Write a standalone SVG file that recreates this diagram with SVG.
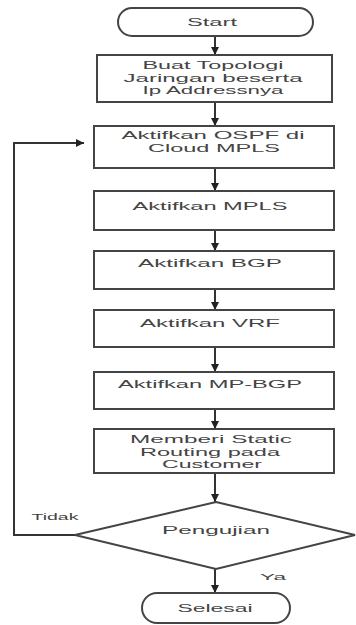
<svg xmlns="http://www.w3.org/2000/svg" width="356" height="625" viewBox="0 0 356 625">
<style>
.box{fill:#fff;stroke:#444;stroke-width:2}
.ln{fill:none;stroke:#333;stroke-width:2}
text{font-family:"Liberation Sans",Arial,sans-serif;font-size:10.5px;fill:#444;text-anchor:middle}
.sm{font-size:9px}
</style>
<defs>
<marker id="ah" viewBox="0 0 10 10" refX="10" refY="5" markerWidth="4" markerHeight="4" orient="auto" markerUnits="strokeWidth">
<path d="M0,0 L10,5 L0,10 Z" fill="#222"/>
</marker>
</defs>
<rect width="356" height="625" fill="#fff"/>
<g id="connectors">
<line class="ln" x1="215" y1="36" x2="215" y2="55" marker-end="url(#ah)"/>
<line class="ln" x1="215" y1="102" x2="215" y2="126" marker-end="url(#ah)"/>
<line class="ln" x1="215" y1="168" x2="215" y2="191" marker-end="url(#ah)"/>
<line class="ln" x1="215" y1="230" x2="215" y2="251" marker-end="url(#ah)"/>
<line class="ln" x1="215" y1="289" x2="215" y2="310" marker-end="url(#ah)"/>
<line class="ln" x1="215" y1="347" x2="215" y2="372" marker-end="url(#ah)"/>
<line class="ln" x1="215" y1="409" x2="215" y2="429" marker-end="url(#ah)"/>
<line class="ln" x1="215" y1="473" x2="215" y2="502" marker-end="url(#ah)"/>
<line class="ln" x1="215" y1="569" x2="215" y2="593" marker-end="url(#ah)"/>
<polyline class="ln" points="75,535 14,535 14,143 84,143" marker-end="url(#ah)"/>
<text class="sm" x="55" y="520" textLength="47" lengthAdjust="spacingAndGlyphs">Tidak</text>
<text class="sm" x="273" y="580" textLength="26" lengthAdjust="spacingAndGlyphs">Ya</text>
</g>
<g id="start">
<rect class="box" x="118" y="8" width="195" height="28" rx="14"/>
<text x="212" y="26" textLength="50" lengthAdjust="spacingAndGlyphs">Start</text>
</g>
<g id="topologi">
<rect class="box" x="97" y="55" width="235" height="47"/>
<text x="213" y="69" textLength="141" lengthAdjust="spacingAndGlyphs">Buat Topologi</text>
<text x="213" y="81.5" textLength="179" lengthAdjust="spacingAndGlyphs">Jaringan beserta</text>
<text x="213" y="94" textLength="141" lengthAdjust="spacingAndGlyphs">Ip Addressnya</text>
</g>
<g id="ospf">
<rect class="box" x="94" y="126" width="240" height="42"/>
<text x="213" y="139" textLength="183" lengthAdjust="spacingAndGlyphs">Aktifkan OSPF di</text>
<text x="214" y="151.5" textLength="132" lengthAdjust="spacingAndGlyphs">Cloud MPLS</text>
</g>
<g id="mpls">
<rect class="box" x="94" y="191" width="240" height="39"/>
<text x="210" y="210" textLength="155" lengthAdjust="spacingAndGlyphs">Aktifkan MPLS</text>
</g>
<g id="bgp">
<rect class="box" x="94" y="251" width="240" height="38"/>
<text x="210" y="267" textLength="144" lengthAdjust="spacingAndGlyphs">Aktifkan BGP</text>
</g>
<g id="vrf">
<rect class="box" x="94" y="310" width="240" height="37"/>
<text x="210" y="327" textLength="140" lengthAdjust="spacingAndGlyphs">Aktifkan VRF</text>
</g>
<g id="mpbgp">
<rect class="box" x="94" y="372" width="240" height="37"/>
<text x="210" y="388" textLength="184" lengthAdjust="spacingAndGlyphs">Aktifkan MP-BGP</text>
</g>
<g id="static">
<rect class="box" x="94" y="429" width="240" height="44"/>
<text x="211" y="443" textLength="162" lengthAdjust="spacingAndGlyphs">Memberi Static</text>
<text x="210" y="455.5" textLength="140" lengthAdjust="spacingAndGlyphs">Routing pada</text>
<text x="212" y="468" textLength="100" lengthAdjust="spacingAndGlyphs">Customer</text>
</g>
<g id="pengujian">
<polygon class="box" points="216,502 355,535 216,569 75,535"/>
<text x="216" y="534" textLength="108" lengthAdjust="spacingAndGlyphs">Pengujian</text>
</g>
<g id="selesai">
<rect class="box" x="142" y="593" width="148" height="30" rx="15"/>
<text x="215" y="612" textLength="75" lengthAdjust="spacingAndGlyphs">Selesai</text>
</g>
</svg>
